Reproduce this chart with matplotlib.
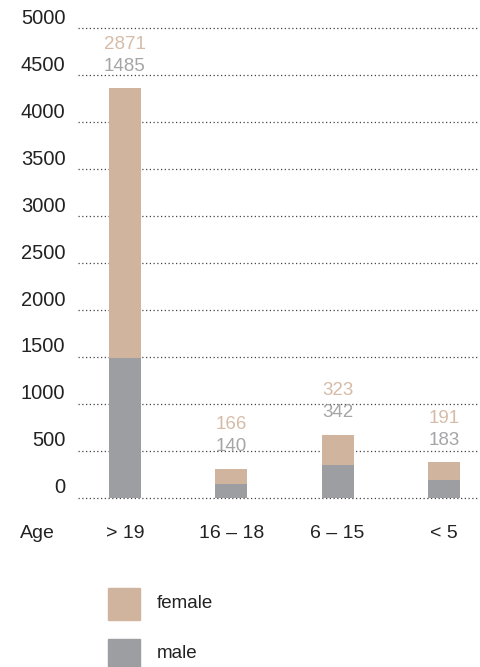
import matplotlib.pyplot as plt
from matplotlib.patches import Rectangle

plt.rcParams['font.family'] = ['Liberation Sans', 'DejaVu Sans']

# data
groups = ['> 19', '16 – 18', '6 – 15', '< 5']
male = [1485, 140, 342, 183]
female = [2871, 166, 323, 191]
yticks = [0, 500, 1000, 1500, 2000, 2500, 3000, 3500, 4000, 4500, 5000]

female_color = '#d1b49e'
male_color = '#9d9ea2'
female_text = '#d6bca8'
male_text = '#a5a5a8'
text_color = '#222222'

fig = plt.figure(figsize=(4.8, 6.67), dpi=100)
ax = fig.add_axes([78 / 480, 0.254, 400 / 480, 0.704])

x = list(range(len(groups)))
ax.bar(x, male, width=0.3, color=male_color, zorder=2)
ax.bar(x, female, width=0.3, bottom=male, color=female_color, zorder=2)

ax.set_xlim(-0.442, 3.32)
ax.set_ylim(0, 5000)

# dotted gridlines
for t in yticks:
    ax.axhline(t, color='#444444', linestyle=(0, (1, 2)), linewidth=0.9, zorder=1, clip_on=False)
    ax.annotate(str(t), xy=(0, t), xycoords=('axes fraction', 'data'),
                xytext=(-9, 7), textcoords='offset points',
                ha='right', va='center', fontsize=14.5, color=text_color)

# value labels above bars
for i in x:
    top = male[i] + female[i]
    ax.annotate(str(male[i]), xy=(i, top), xytext=(0, 16), textcoords='offset points',
                ha='center', va='center', fontsize=13.5, color=male_text)
    ax.annotate(str(female[i]), xy=(i, top), xytext=(0, 32), textcoords='offset points',
                ha='center', va='center', fontsize=13.5, color=female_text)

# category labels
for i in x:
    ax.annotate(groups[i], xy=(i, 0), xytext=(0, -26), textcoords='offset points',
                ha='center', va='center', fontsize=14, color=text_color)
ax.annotate('Age', xy=(0, 0), xycoords=('axes fraction', 'data'), xytext=(-29, -26),
            textcoords='offset points', ha='center', va='center', fontsize=14, color=text_color)

ax.set_xticks([])
ax.set_yticks([])
for s in ax.spines.values():
    s.set_visible(False)

# legend
W, H = 480, 667
fig.patches.append(Rectangle((108 / W, 1 - 620 / H), 32 / W, 32 / H, color=female_color,
                             transform=fig.transFigure, figure=fig))
fig.patches.append(Rectangle((108 / W, 1 - 671 / H), 32 / W, 32 / H, color=male_color,
                             transform=fig.transFigure, figure=fig))
fig.text(157 / W, 1 - 603 / H, 'female', ha='left', va='center', fontsize=13.5, color=text_color)
fig.text(157 / W, 1 - 653 / H, 'male', ha='left', va='center', fontsize=13.5, color=text_color)

fig.savefig('out.png', dpi=100)
